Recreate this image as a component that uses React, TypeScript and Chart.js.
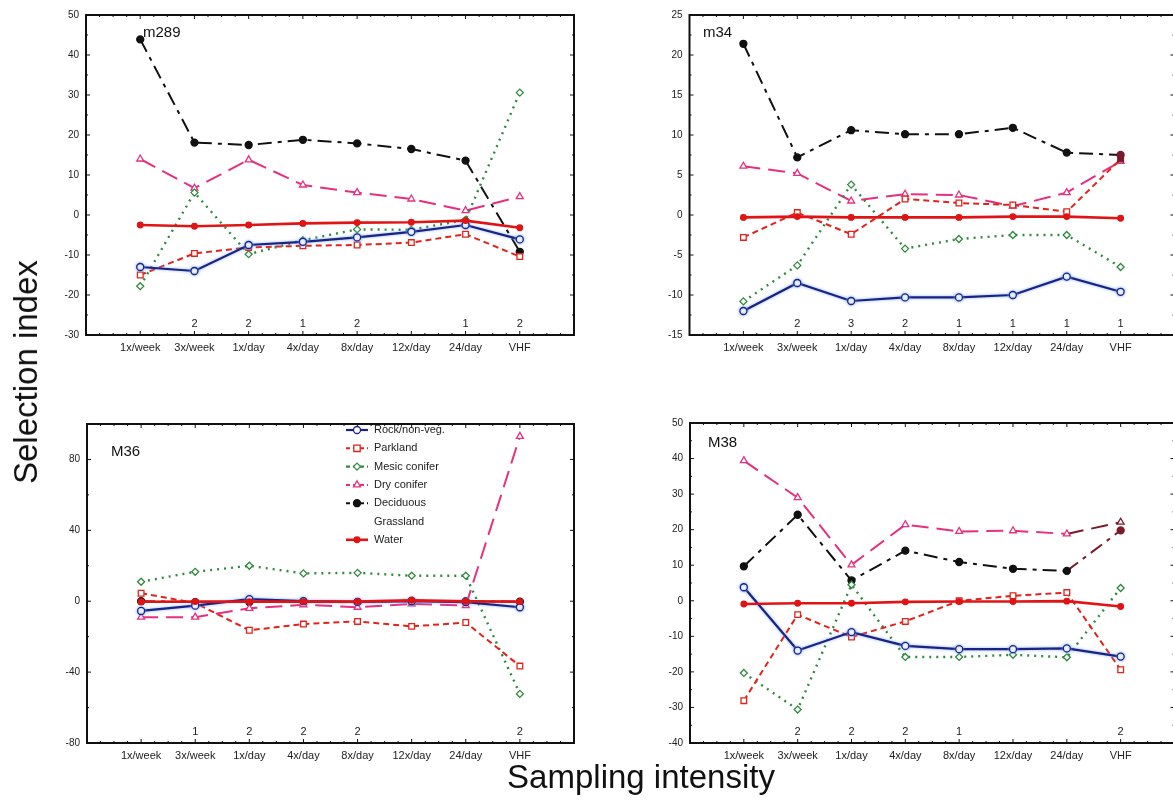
import React, { useEffect, useRef } from 'react';
import { Chart, registerables } from 'chart.js';
Chart.register(...registerables);

const categories = ['1x/week', '3x/week', '1x/day', '4x/day', '8x/day', '12x/day', '24/day', 'VHF'];
const seriesNames = ['Rock/non-veg.', 'Parkland', 'Mesic conifer', 'Dry conifer', 'Deciduous', 'Grassland', 'Water'];

// m289
const m289Rock = [-13, -14, -7.5, -6.7, -5.6, -4.2, -2.5, -6.1];
const m289Parkland = [-15, -9.6, -8.1, -7.7, -7.5, -6.9, -4.8, -10.4];
const m289Mesic = [-17.8, 5.6, -9.8, -6.3, -3.6, -3.7, -1.2, 30.6];
const m289Dry = [14, 6.7, 13.8, 7.5, 5.6, 4, 1.1, 4.6];
const m289Deciduous = [43.9, 18.1, 17.5, 18.8, 17.9, 16.5, 13.6, -9.2];
const m289Grassland = [null, null, null, null, null, null, null, null];
const m289Water = [-2.5, -2.8, -2.5, -2.1, -1.9, -1.8, -1.4, -3.2];
const m289Counts = ['', '2', '2', '1', '2', '', '1', '2'];
const m289Ticks = [-30, -20, -10, 0, 10, 20, 30, 40, 50];

// m34
const m34Rock = [-12, -8.5, -10.75, -10.3, -10.3, -10, -7.7, -9.6];
const m34Parkland = [-2.8, 0.3, -2.4, 2, 1.5, 1.25, 0.4, 7];
const m34Mesic = [-10.8, -6.3, 3.8, -4.2, -3, -2.5, -2.5, -6.5];
const m34Dry = [6.1, 5.2, 1.75, 2.6, 2.5, 1.1, 2.8, 6.7];
const m34Deciduous = [21.4, 7.2, 10.6, 10.1, 10.1, 10.9, 7.8, 7.5];
const m34Grassland = [null, null, null, null, null, null, null, null];
const m34Water = [-0.3, -0.2, -0.3, -0.3, -0.3, -0.2, -0.2, -0.4];
const m34Counts = ['', '2', '3', '2', '1', '1', '1', '1'];
const m34Ticks = [-15, -10, -5, 0, 5, 10, 15, 20, 25];

// M36
const m36Rock = [-5.5, -2.5, 1.2, 0, -0.4, 0, -0.5, -3.4];
const m36Parkland = [4.5, -1, -16.4, -12.9, -11.4, -14.2, -12, -36.6];
const m36Mesic = [11, 16.6, 20, 15.7, 16, 14.4, 14.4, -52.3];
const m36Dry = [-9, -9, -4, -2, -3.4, -1.5, -2.5, 93];
const m36Deciduous = [0, -0.5, -0.5, -0.2, -0.5, 0.3, 0, -0.3];
const m36Grassland = [null, null, null, null, null, null, null, null];
const m36Water = [-0.3, -0.2, -0.2, -0.2, -0.2, 0.5, -0.1, -0.2];
const m36Counts = ['', '1', '2', '2', '2', '', '', '2'];
const m36Ticks = [-80, -40, 0, 40, 80];

// M38
const m38Rock = [3.8, -14, -8.8, -12.7, -13.6, -13.6, -13.4, -15.7];
const m38Parkland = [-28.1, -3.9, -10.2, -5.8, 0, 1.4, 2.3, -19.4];
const m38Mesic = [-20.3, -30.6, 4.5, -15.8, -15.8, -15.2, -15.9, 3.6];
const m38Dry = [39.4, 29, 10.1, 21.4, 19.5, 19.7, 18.8, 22.1];
const m38Deciduous = [9.7, 24.2, 5.7, 14.1, 10.9, 9, 8.4, 19.8];
const m38Grassland = [null, null, null, null, null, null, null, null];
const m38Water = [-0.9, -0.7, -0.7, -0.3, -0.2, -0.2, -0.1, -1.6];
const m38Counts = ['', '2', '2', '2', '1', '', '', '2'];
const m38Ticks = [-40, -30, -20, -10, 0, 10, 20, 30, 40, 50];

const FONT = '"Liberation Sans", Arial, Helvetica, sans-serif';
const MAROON = '#7a1b2c';

const styles = [
  { color: '#1b2380', dash: [], width: 2.2, point: 'circle', radius: 3.5, fill: '#ffffff', halo: true, order: 1 },
  { color: '#e2231a', dash: [6, 4], width: 2, point: 'rect', radius: 4, fill: '#ffffff', order: 1 },
  { color: '#2e8b3c', dash: [2, 5], width: 2.4, point: 'rectRot', radius: 3.5, fill: '#ffffff', order: 1 },
  { color: '#e6307f', dash: [17, 8], width: 2, point: 'triangle', radius: 4, fill: '#ffffff', order: 1 },
  { color: '#111111', dash: [14, 6, 4, 6], width: 2, point: 'circle', radius: 3.5, fill: '#111111', order: 1 },
  { color: 'rgba(0,0,0,0)', dash: [], width: 0, point: 'circle', radius: 0, fill: 'rgba(0,0,0,0)', order: 1 },
  { color: '#e01414', dash: [], width: 2.6, point: 'circle', radius: 2.8, fill: '#e01414', order: 0 },
];

type Accent = { series: number; fill: boolean; segment: boolean };

type PanelCfg = {
  name: string;
  series: (number | null)[][];
  counts: string[];
  yTicks: number[];
  yMin: number;
  yMax: number;
  left: number;
  top: number;
  w: number;
  h: number;
  area: { l: number; r: number; t: number; b: number };
  label: { x: number; y: number };
  legend?: { x: number; y: number; step: number };
  accents?: Accent[];
};

const panels: PanelCfg[] = [
  {
    name: 'm289',
    series: [m289Rock, m289Parkland, m289Mesic, m289Dry, m289Deciduous, m289Grassland, m289Water],
    counts: m289Counts, yTicks: m289Ticks, yMin: -30, yMax: 50,
    left: 0, top: 0, w: 590, h: 375,
    area: { l: 86, r: 574, t: 15, b: 335 },
    label: { x: 143, y: 33 },
  },
  {
    name: 'm34',
    series: [m34Rock, m34Parkland, m34Mesic, m34Dry, m34Deciduous, m34Grassland, m34Water],
    counts: m34Counts, yTicks: m34Ticks, yMin: -15, yMax: 25,
    left: 600, top: 0, w: 590, h: 375,
    area: { l: 89.5, r: 574.5, t: 15, b: 335 },
    label: { x: 103, y: 33 },
    accents: [
      { series: 1, fill: true, segment: false },
      { series: 4, fill: true, segment: false },
    ],
  },
  {
    name: 'M36',
    series: [m36Rock, m36Parkland, m36Mesic, m36Dry, m36Deciduous, m36Grassland, m36Water],
    counts: m36Counts, yTicks: m36Ticks, yMin: -80, yMax: 100,
    left: 0, top: 400, w: 590, h: 375,
    area: { l: 87, r: 574, t: 24, b: 343 },
    label: { x: 111, y: 52 },
    legend: { x: 357, y: 30, step: 18.3 },
  },
  {
    name: 'M38',
    series: [m38Rock, m38Parkland, m38Mesic, m38Dry, m38Deciduous, m38Grassland, m38Water],
    counts: m38Counts, yTicks: m38Ticks, yMin: -40, yMax: 50,
    left: 600, top: 400, w: 590, h: 375,
    area: { l: 90, r: 574.5, t: 23, b: 343 },
    label: { x: 108, y: 43 },
    accents: [
      { series: 3, fill: false, segment: true },
      { series: 4, fill: true, segment: true },
    ],
  },
];

function drawMarker(ctx: CanvasRenderingContext2D, style: string, x: number, y: number, r: number, fill: string, stroke: string) {
  if (r <= 0) return;
  ctx.save();
  ctx.setLineDash([]);
  ctx.lineWidth = 1.3;
  ctx.fillStyle = fill;
  ctx.strokeStyle = stroke;
  ctx.beginPath();
  if (style === 'rect') {
    ctx.rect(x - r * 0.8, y - r * 0.8, r * 1.6, r * 1.6);
  } else if (style === 'rectRot') {
    ctx.moveTo(x, y - r); ctx.lineTo(x + r, y); ctx.lineTo(x, y + r); ctx.lineTo(x - r, y); ctx.closePath();
  } else if (style === 'triangle') {
    ctx.moveTo(x, y - r); ctx.lineTo(x + r * 0.87, y + r * 0.5); ctx.lineTo(x - r * 0.87, y + r * 0.5); ctx.closePath();
  } else {
    ctx.arc(x, y, r, 0, Math.PI * 2);
  }
  ctx.fill();
  ctx.stroke();
  ctx.restore();
}

const decorPlugin = {
  id: 'decor',
  beforeDatasetDraw(chart: any, args: any) {
    const ds = chart.data.datasets[args.index];
    if (ds.halo) {
      chart.ctx.save();
      chart.ctx.shadowColor = 'rgba(120,165,255,0.95)';
      chart.ctx.shadowBlur = 3;
    }
  },
  afterDatasetDraw(chart: any, args: any) {
    const ds = chart.data.datasets[args.index];
    if (ds.halo) chart.ctx.restore();
  },
  afterDraw(chart: any, _args: any, opts: any) {
    const ctx: CanvasRenderingContext2D = chart.ctx;
    const a = chart.chartArea;
    const xs = chart.scales.x;
    const ys = chart.scales.y;
    ctx.save();
    // frame
    ctx.strokeStyle = '#111';
    ctx.lineWidth = 2;
    ctx.strokeRect(a.left, a.top, a.right - a.left, a.bottom - a.top);
    ctx.lineWidth = 1;
    for (let v = -1; v <= 8.001; v += 0.25) {
      const px = xs.getPixelForValue(v);
      const len = Math.abs(v - Math.round(v)) < 0.01 ? 4 : 2;
      ctx.beginPath();
      ctx.moveTo(px, a.top); ctx.lineTo(px, a.top + len);
      ctx.moveTo(px, a.bottom); ctx.lineTo(px, a.bottom - len);
      ctx.stroke();
    }
    const yt: number[] = opts.yTicks;
    const half = (yt[1] - yt[0]) / 2;
    for (let v = opts.yMin; v <= opts.yMax + 0.001; v += half) {
      const py = ys.getPixelForValue(v);
      const major = yt.some((t) => Math.abs(t - v) < 0.001);
      const len = major ? 4 : 2;
      ctx.beginPath();
      ctx.moveTo(a.left, py); ctx.lineTo(a.left + len, py);
      ctx.moveTo(a.right, py); ctx.lineTo(a.right - len, py);
      ctx.stroke();
    }
    // counts
    ctx.fillStyle = '#222';
    ctx.font = `11px ${FONT}`;
    ctx.textAlign = 'center';
    ctx.textBaseline = 'middle';
    (opts.counts as string[]).forEach((c, i) => {
      if (c) ctx.fillText(c, xs.getPixelForValue(i), a.bottom - 11);
    });
    // panel name
    ctx.fillStyle = '#111';
    ctx.font = `15px ${FONT}`;
    ctx.textAlign = 'left';
    ctx.fillText(opts.name, opts.label.x, opts.label.y);
    // legend
    if (opts.legend) {
      const L = opts.legend;
      chart.data.datasets.forEach((ds: any, i: number) => {
        const y = L.y + i * L.step;
        if (ds.borderWidth > 0) {
          ctx.save();
          ctx.strokeStyle = ds.legendColor;
          ctx.lineWidth = ds.borderWidth;
          ctx.setLineDash(ds.borderDash && ds.borderDash.length ? [4, 3] : []);
          ctx.beginPath();
          ctx.moveTo(L.x - 11, y); ctx.lineTo(L.x + 11, y);
          ctx.stroke();
          ctx.restore();
          drawMarker(ctx, ds.pointStyle, L.x, y, ds.pointRadius, ds.legendFill, ds.legendColor);
        }
        ctx.fillStyle = '#222';
        ctx.font = `11px ${FONT}`;
        ctx.textAlign = 'left';
        ctx.textBaseline = 'middle';
        ctx.fillText(ds.label, L.x + 17, y);
      });
    }
    ctx.restore();
  },
};

function Panel({ cfg }: { cfg: PanelCfg }) {
  const ref = useRef<HTMLCanvasElement>(null);
  useEffect(() => {
    const yW = 50;
    const xH = 30;
    const last = categories.length - 1;
    const chart = new Chart(ref.current as HTMLCanvasElement, {
      type: 'line',
      data: {
        datasets: cfg.series.map((vals, si) => {
          const s = styles[si];
          const acc = (cfg.accents || []).find((a) => a.series === si);
          return {
            label: seriesNames[si],
            data: vals.map((v, i) => ({ x: i, y: v })),
            borderColor: s.color,
            borderDash: s.dash,
            borderWidth: s.width,
            pointStyle: s.point,
            pointRadius: s.radius,
            pointBorderWidth: 1.3,
            pointBackgroundColor: (c: any) => (acc && c.dataIndex === last ? (acc.fill ? MAROON : '#ffffff') : s.fill),
            pointBorderColor: (c: any) => (acc && c.dataIndex === last ? MAROON : s.color),
            segment: {
              borderColor: (c: any) => (acc && acc.segment && c.p1DataIndex === last ? MAROON : undefined),
            },
            legendColor: s.color,
            legendFill: s.fill,
            tension: 0,
            fill: false,
            order: s.order,
            halo: !!(s as any).halo,
          } as any;
        }),
      },
      options: {
        animation: false,
        responsive: false,
        maintainAspectRatio: false,
        layout: {
          padding: {
            left: cfg.area.l - yW,
            right: cfg.w - cfg.area.r,
            top: cfg.area.t,
            bottom: cfg.h - cfg.area.b - xH,
          },
        },
        plugins: {
          legend: { display: false },
          tooltip: { enabled: false },
          decor: {
            counts: cfg.counts,
            name: cfg.name,
            label: cfg.label,
            legend: cfg.legend,
            yTicks: cfg.yTicks,
            yMin: cfg.yMin,
            yMax: cfg.yMax,
          },
        } as any,
        scales: {
          x: {
            type: 'linear',
            min: -1,
            max: 8,
            grid: { display: false, drawTicks: false },
            border: { display: false },
            ticks: {
              stepSize: 1,
              autoSkip: false,
              maxRotation: 0,
              padding: 6,
              color: '#222',
              font: { family: FONT, size: 11 },
              callback: (v: any) => categories[Number(v)] ?? '',
            },
            afterFit: (s: any) => { s.height = xH; },
          },
          y: {
            type: 'linear',
            min: cfg.yMin,
            max: cfg.yMax,
            grid: { display: false, drawTicks: false },
            border: { display: false },
            afterBuildTicks: (s: any) => { s.ticks = cfg.yTicks.map((v) => ({ value: v })); },
            ticks: {
              padding: 7,
              color: '#222',
              font: { family: FONT, size: 10 },
            },
            afterFit: (s: any) => { s.width = yW; },
          },
        },
      },
      plugins: [decorPlugin as any],
    });
    return () => chart.destroy();
  }, [cfg]);
  return (
    <canvas
      ref={ref}
      width={cfg.w}
      height={cfg.h}
      style={{ position: 'absolute', left: cfg.left, top: cfg.top, width: cfg.w, height: cfg.h }}
    />
  );
}

export default function App() {
  return (
    <div
      style={{
        position: 'absolute', left: 0, top: 0, width: 1173, height: 809,
        overflow: 'hidden', background: '#fff', fontFamily: FONT, color: '#111',
      }}
    >
      {panels.map((p) => (
        <Panel key={p.name} cfg={p} />
      ))}
      <div
        style={{
          position: 'absolute', left: 26, top: 372, fontSize: 33, whiteSpace: 'nowrap',
          transform: 'translate(-50%, -50%) rotate(-90deg)', lineHeight: 'normal',
        }}
      >
        Selection index
      </div>
      <div
        style={{
          position: 'absolute', left: 641, top: 777, fontSize: 33, whiteSpace: 'nowrap',
          transform: 'translate(-50%, -50%)', lineHeight: 'normal',
        }}
      >
        Sampling intensity
      </div>
    </div>
  );
}
